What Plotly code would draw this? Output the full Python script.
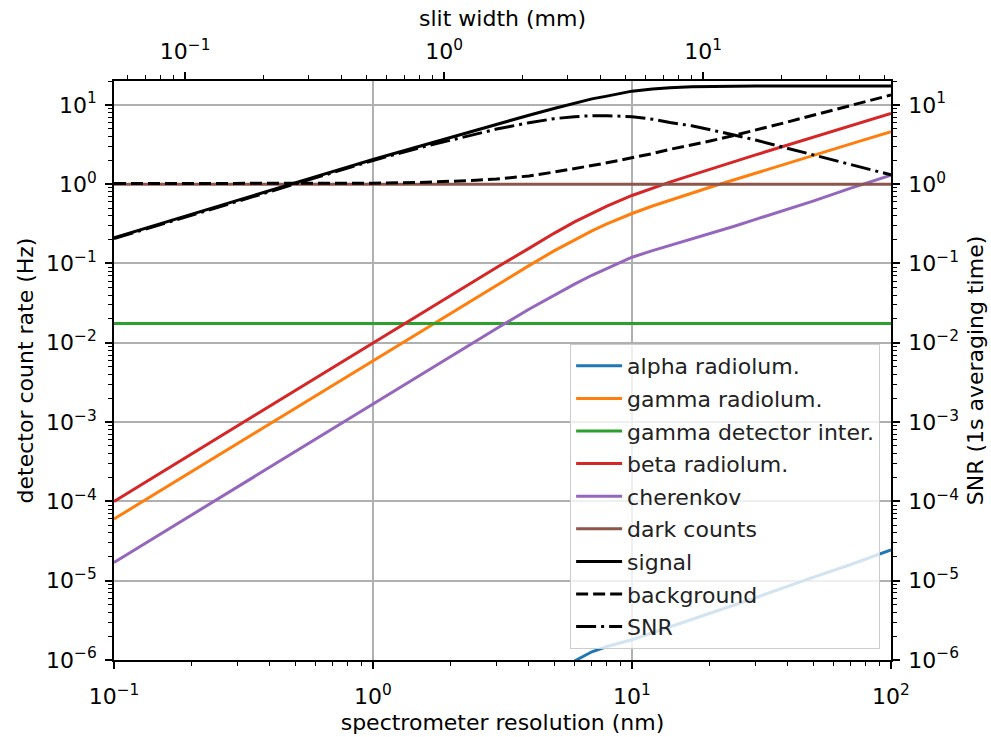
import math
import plotly.graph_objects as go

# ---------------- data ----------------
res_nm = [0.1, 0.2, 0.5, 1, 1.5, 2, 2.5, 3, 4, 5, 6, 7, 8, 10, 12, 14, 17, 20, 25, 30, 40, 50, 70, 100]

beta_radiolum = [1.0e-4, 4.0e-4, 2.5e-3, 1.0e-2, 2.25e-2, 0.040, 0.062, 0.089, 0.155, 0.24,
                 0.334, 0.43, 0.53, 0.72, 0.895, 1.06, 1.30, 1.55, 1.94, 2.34, 3.12, 3.9, 5.46, 7.8]
gamma_radiolum = [6.0e-5, 2.4e-4, 1.5e-3, 6.0e-3, 1.35e-2, 0.024, 0.0374, 0.0535, 0.094, 0.144,
                  0.20, 0.258, 0.316, 0.427, 0.531, 0.63, 0.775, 0.915, 1.145, 1.38, 1.84, 2.3, 3.22, 4.6]
cherenkov = [1.7e-5, 6.8e-5, 4.25e-4, 1.7e-3, 3.8e-3, 6.75e-3, 0.0105, 0.0151, 0.0265, 0.040,
             0.055, 0.071, 0.086, 0.12, 0.145, 0.168, 0.203, 0.237, 0.297, 0.36, 0.48, 0.61, 0.89, 1.3]
signal = [0.21, 0.42, 1.04, 2.05, 3.0, 3.9, 4.8, 5.7, 7.4, 9.0,
          10.5, 11.9, 12.9, 14.9, 15.9, 16.5, 16.9, 17.1, 17.2, 17.25, 17.3, 17.3, 17.3, 17.3]
background = [1.018, 1.018, 1.02, 1.03, 1.05, 1.08, 1.12, 1.16, 1.27, 1.42,
              1.56, 1.72, 1.86, 2.15, 2.43, 2.75, 3.1, 3.5, 4.15, 4.8, 6.1, 7.4, 9.9, 13.3]
snr = [0.206, 0.41, 1.02, 1.99, 2.86, 3.6, 4.3, 4.95, 5.95, 6.7,
       7.1, 7.3, 7.3, 7.1, 6.6, 6.0, 5.45, 4.9, 4.15, 3.6, 2.83, 2.33, 1.75, 1.31]

alpha_x = [5, 6.1, 7, 8, 10, 14, 20, 30, 50, 70, 100]
alpha_radiolum = [6.7e-7, 1.0e-6, 1.27e-6, 1.48e-6, 1.8e-6, 2.6e-6, 3.9e-6, 6.1e-6, 1.1e-5, 1.6e-5, 2.45e-5]

const_x = [0.1, 100]
gamma_detector = [0.0175, 0.0175]
dark_counts = [1.0, 1.0]

x_tickvals = [0.1, 1, 10, 100]
x_ticktext = ["10<sup>−1</sup>", "10<sup>0</sup>", "10<sup>1</sup>", "10<sup>2</sup>"]
top_tickvals = [0.1, 1, 10]
top_ticktext = ["10<sup>−1</sup>", "10<sup>0</sup>", "10<sup>1</sup>"]
y_tickvals = [1e-6, 1e-5, 1e-4, 1e-3, 1e-2, 1e-1, 1, 10]
y_ticktext = ["10<sup>−6</sup>", "10<sup>−5</sup>", "10<sup>−4</sup>", "10<sup>−3</sup>",
              "10<sup>−2</sup>", "10<sup>−1</sup>", "10<sup>0</sup>", "10<sup>1</sup>"]

SLIT_MM_PER_NM = 0.531
X_MIN, X_MAX = 0.1, 100
Y_MIN, Y_MAX = 1e-6, 20

# ---------------- styling ----------------
FONT = "DejaVu Sans"
FS = 22
LW = 3.0
C = {"blue": "#1f77b4", "orange": "#ff7f0e", "green": "#2ca02c", "red": "#d62728",
     "purple": "#9467bd", "brown": "#8c564b", "black": "#000000"}

fig = go.Figure()


def add(x, y, name, color, dash="solid", yaxis="y"):
    fig.add_trace(go.Scatter(x=x, y=y, name=name, mode="lines", legendgroup=name,
                             line=dict(color=color, width=LW, dash=dash),
                             xaxis="x", yaxis=yaxis))


add(alpha_x, alpha_radiolum, "alpha radiolum.", C["blue"])
add(res_nm, gamma_radiolum, "gamma radiolum.", C["orange"])
add(const_x, gamma_detector, "gamma detector inter.", C["green"])
add(res_nm, beta_radiolum, "beta radiolum.", C["red"])
add(res_nm, cherenkov, "cherenkov", C["purple"])
add(const_x, dark_counts, "dark counts", C["brown"])
add(res_nm, signal, "signal", C["black"])
add(res_nm, background, "background", C["black"], dash="12px,5px")
add(res_nm, snr, "SNR", C["black"], dash="20px,5px,3px,5px", yaxis="y2")

# invisible trace that anchors the top (slit width) axis
slit_range = [X_MIN * SLIT_MM_PER_NM, X_MAX * SLIT_MM_PER_NM]
fig.add_trace(go.Scatter(x=slit_range, y=[1, 1], xaxis="x2", yaxis="y", mode="lines",
                         line=dict(width=0, color="rgba(0,0,0,0)"), showlegend=False,
                         hoverinfo="skip"))


def minor_vals(lo_exp, hi_exp, lo, hi):
    vals = []
    for e in range(lo_exp, hi_exp + 1):
        for k in range(2, 10):
            v = k * 10 ** e
            if lo <= v <= hi:
                vals.append(v)
    return vals


axis_common = dict(type="log", showline=True, linecolor="black", linewidth=1.7,
                   ticks="outside", ticklen=7, tickwidth=1.7, tickcolor="black",
                   tickfont=dict(family=FONT, size=FS, color="black"),
                   tickmode="array", zeroline=False, ticklabelstandoff=4,
                   automargin=False)

fig.update_layout(
    width=991, height=737,
    margin=dict(l=114, r=100, t=81, b=77),
    paper_bgcolor="white", plot_bgcolor="white",
    font=dict(family=FONT, size=FS, color="black"),
    showlegend=True,
    legend=dict(x=0.986, y=0.019, xanchor="right", yanchor="bottom",
                bgcolor="rgba(255,255,255,0.8)", bordercolor="#cccccc", borderwidth=1,
                font=dict(family=FONT, size=FS, color="#222222"),
                tracegroupgap=1, itemwidth=46),
    xaxis=dict(axis_common, range=[math.log10(X_MIN), math.log10(X_MAX)],
               tickvals=x_tickvals, ticktext=x_ticktext, side="bottom",
               showgrid=True, gridcolor="#b0b0b0", gridwidth=1.6, ticklabelstandoff=9,
               minor=dict(tickmode="array", tickvals=minor_vals(-1, 1, X_MIN, X_MAX),
                          ticks="outside", ticklen=4, tickwidth=1.3, tickcolor="black",
                          showgrid=False),
               title=dict(text="spectrometer resolution (nm)", standoff=6,
                          font=dict(family=FONT, size=FS, color="black"))),
    xaxis2=dict(axis_common, overlaying="x", side="top", anchor="y",
                range=[math.log10(slit_range[0]), math.log10(slit_range[1])],
                tickvals=top_tickvals, ticktext=top_ticktext, showgrid=False,
                minor=dict(tickmode="array",
                           tickvals=minor_vals(-2, 1, slit_range[0], slit_range[1]),
                           ticks="outside", ticklen=4, tickwidth=1.3, tickcolor="black",
                           showgrid=False),
                title=dict(text="slit width (mm)", standoff=3,
                           font=dict(family=FONT, size=FS, color="black"))),
    yaxis=dict(axis_common, range=[math.log10(Y_MIN), math.log10(Y_MAX)],
               tickvals=y_tickvals, ticktext=y_ticktext, side="left",
               showgrid=True, gridcolor="#b0b0b0", gridwidth=1.6,
               minor=dict(tickmode="array", tickvals=minor_vals(-6, 1, Y_MIN, Y_MAX),
                          ticks="outside", ticklen=4, tickwidth=1.3, tickcolor="black",
                          showgrid=False),
               title=dict(text="detector count rate (Hz)", standoff=6,
                          font=dict(family=FONT, size=FS, color="black"))),
    yaxis2=dict(axis_common, overlaying="y", side="right", anchor="x",
                range=[math.log10(Y_MIN), math.log10(Y_MAX)],
                tickvals=y_tickvals, ticktext=y_ticktext, showgrid=False,
                minor=dict(tickmode="array", tickvals=minor_vals(-6, 1, Y_MIN, Y_MAX),
                           ticks="outside", ticklen=4, tickwidth=1.3, tickcolor="black",
                           showgrid=False),
                title=dict(text="SNR (1s averaging time)", standoff=10,
                           font=dict(family=FONT, size=FS, color="black"))),
)

fig.write_html("out.html")
